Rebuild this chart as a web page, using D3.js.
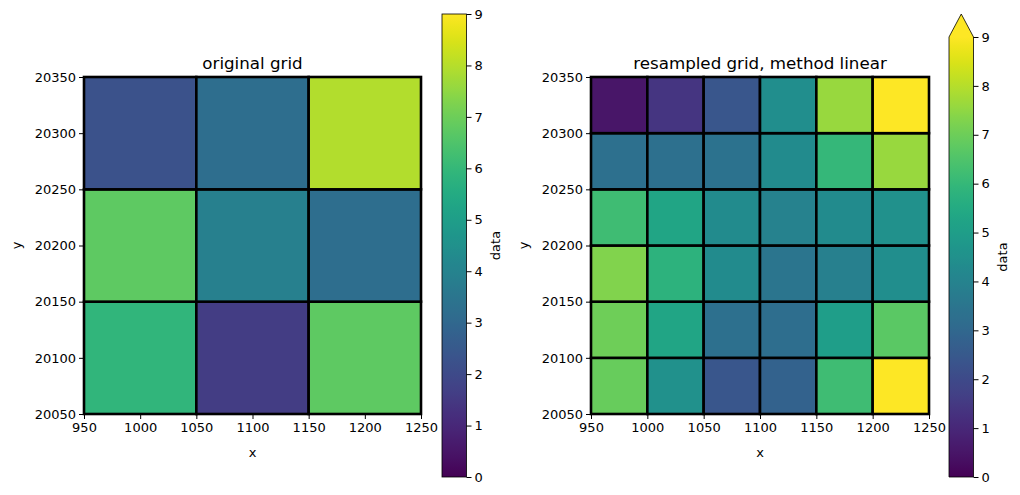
<!DOCTYPE html>
<html><head><meta charset="utf-8">
<script src="https://cdn.jsdelivr.net/npm/d3@7"></script>
<style>body{margin:0;background:#fff}svg{font-family:"DejaVu Sans",sans-serif}</style>
</head><body><svg id="c" width="1020" height="495"></svg>
<script>
// ---- data ----
const origXEdges = [950, 1050, 1150, 1250];
const origYEdges = [20050, 20150, 20250, 20350];
// rows from bottom (y=20050) to top
const origValues = [
  [5.9, 1.6, 6.75],
  [6.75, 3.9, 3.2],
  [2.25, 3.2, 7.95]
];
const resXEdges = [950, 1000, 1050, 1100, 1150, 1200, 1250];
const resYEdges = [20050, 20100, 20150, 20200, 20250, 20300, 20350];
const resValues = [
  [6.9, 4.5, 2.4, 2.8, 6.2, 9.6],
  [7.0, 5.3, 3.3, 3.2, 5.0, 6.7],
  [7.3, 5.8, 4.3, 3.5, 3.9, 4.4],
  [6.2, 5.3, 4.3, 4.0, 4.3, 4.5],
  [3.3, 3.3, 3.4, 4.3, 6.0, 7.6],
  [0.5, 1.4, 2.4, 4.4, 7.6, 9.5]
];
const xTicks = [950, 1000, 1050, 1100, 1150, 1200, 1250];
const yTicks = [20050, 20100, 20150, 20200, 20250, 20300, 20350];
const cbTicks = [0, 1, 2, 3, 4, 5, 6, 7, 8, 9];
const titles = ["original grid", "resampled grid, method linear"];

const svg = d3.select("#c");
const color = d3.scaleSequential(d3.interpolateViridis).domain([0, 9]).clamp(true);
const FS = 13;
const CBW = 24.5;

function panel(cfg) {
  const x = d3.scaleLinear().domain([950, 1250]).range([cfg.x0, cfg.x1]);
  const y = d3.scaleLinear().domain([20050, 20350]).range([cfg.y1, cfg.y0]);
  const g = svg.append("g");
  const cells = [];
  cfg.values.forEach((row, j) => row.forEach((v, i) => cells.push({
    xa: cfg.xe[i], xb: cfg.xe[i + 1], ya: cfg.ye[j], yb: cfg.ye[j + 1], v
  })));
  g.selectAll("rect.cell").data(cells).join("rect")
    .attr("x", d => x(d.xa)).attr("y", d => y(d.yb))
    .attr("width", d => x(d.xb) - x(d.xa)).attr("height", d => y(d.ya) - y(d.yb))
    .attr("fill", d => color(d.v)).attr("stroke", "#000").attr("stroke-width", 2.6);

  const xa = g.append("g").attr("transform", `translate(0,${cfg.y1})`)
    .call(d3.axisBottom(x).tickValues(xTicks).tickSize(5).tickPadding(4).tickFormat(d3.format("d")));
  const ya = g.append("g").attr("transform", `translate(${cfg.x0},0)`)
    .call(d3.axisLeft(y).tickValues(yTicks).tickSize(5).tickPadding(3).tickFormat(d3.format("d")));
  [xa, ya].forEach(a => {
    a.select(".domain").remove();
    a.selectAll("text").attr("font-size", FS).attr("fill", "#000").attr("font-family", "DejaVu Sans");
    a.selectAll("line").attr("stroke", "#000").attr("stroke-width", 1);
  });
  g.append("text").attr("x", (cfg.x0 + cfg.x1) / 2).attr("y", 457).attr("text-anchor", "middle")
    .attr("font-size", FS).text("x");
  g.append("text").attr("text-anchor", "middle").attr("font-size", FS).text("y")
    .attr("transform", `translate(${cfg.x0 - 63},${(cfg.y0 + cfg.y1) / 2}) rotate(-90)`);
  g.append("text").attr("x", (cfg.x0 + cfg.x1) / 2).attr("y", 69).attr("text-anchor", "middle")
    .attr("font-size", 16.7).text(cfg.title);

  // colorbar
  const cb = d3.scaleLinear().domain([0, 9]).range([477, cfg.cbTop]);
  const gid = "grad" + cfg.id;
  const grad = svg.append("defs").append("linearGradient").attr("id", gid)
    .attr("x1", 0).attr("y1", 1).attr("x2", 0).attr("y2", 0);
  d3.range(0, 1.0001, 0.02).forEach(t => grad.append("stop")
    .attr("offset", t).attr("stop-color", d3.interpolateViridis(t)));
  g.append("rect").attr("x", cfg.cbx).attr("y", cb(9)).attr("width", CBW).attr("height", cb(0) - cb(9))
    .attr("fill", `url(#${gid})`);
  if (cfg.extend) {
    g.append("path").attr("d", `M${cfg.cbx},${cb(9)} L${cfg.cbx + CBW / 2},14 L${cfg.cbx + CBW},${cb(9)} Z`)
      .attr("fill", color(9));
    g.append("path").attr("d", `M${cfg.cbx},${cb(0)} L${cfg.cbx},${cb(9)} L${cfg.cbx + CBW / 2},14 L${cfg.cbx + CBW},${cb(9)} L${cfg.cbx + CBW},${cb(0)} Z`)
      .attr("fill", "none").attr("stroke", "#000").attr("stroke-width", 0.8);
  } else {
    g.append("rect").attr("x", cfg.cbx).attr("y", cb(9)).attr("width", CBW).attr("height", cb(0) - cb(9))
      .attr("fill", "none").attr("stroke", "#000").attr("stroke-width", 0.8);
  }
  const ca = g.append("g").attr("transform", `translate(${cfg.cbx + CBW},0)`)
    .call(d3.axisRight(cb).tickValues(cbTicks).tickSize(5).tickPadding(3).tickFormat(d3.format("d")));
  ca.select(".domain").remove();
  ca.selectAll("text").attr("font-size", FS).attr("fill", "#000").attr("font-family", "DejaVu Sans");
  ca.selectAll("line").attr("stroke", "#000").attr("stroke-width", 1);
  g.append("text").attr("transform", `translate(${cfg.cbx + 58},${(cb(0) + cb(9)) / 2}) rotate(-90)`)
    .attr("text-anchor", "middle").attr("font-size", FS).text("data");
}

panel({id: 0, x0: 84, x1: 421, y0: 77, y1: 414, xe: origXEdges, ye: origYEdges, values: origValues,
  title: titles[0], cbx: 442, cbTop: 14, extend: false});
panel({id: 1, x0: 591, x1: 929, y0: 77, y1: 414, xe: resXEdges, ye: resYEdges, values: resValues,
  title: titles[1], cbx: 949, cbTop: 37, extend: true});
</script></body></html>
